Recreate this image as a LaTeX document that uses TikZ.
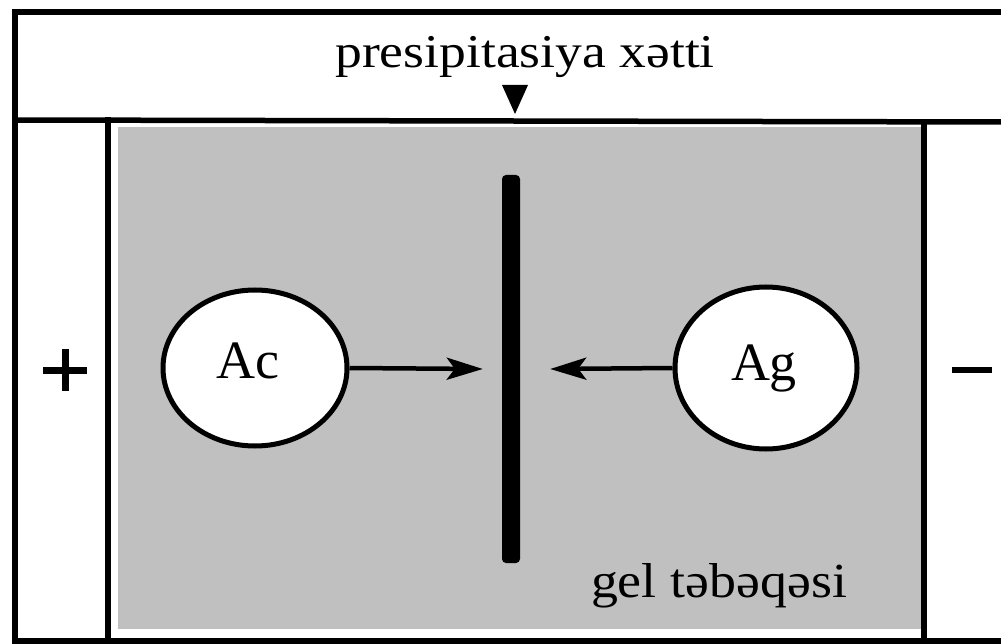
\documentclass[tikz,border=0pt]{standalone}
\usepackage{fontspec}
\setmainfont{Liberation Serif}
\usetikzlibrary{arrows.meta,shapes.geometric}
\definecolor{gelgray}{HTML}{C0C0C0}
\tikzset{
  frame/.style={line width=5.5pt, line cap=rect},
  ion/.style={ellipse, draw, line width=5pt, fill=white, inner sep=0pt},
  lab/.style={inner sep=0pt, anchor=base, font=\fontsize{54}{60}\selectfont},
  arr/.style={line width=4.5pt, -{Stealth[length=36pt,width=22pt,inset=8pt]}},
  sign/.style={line width=7pt}
}
\begin{document}
\begin{tikzpicture}[x=1pt,y=-1pt]
\useasboundingbox (0,0) rectangle (1001,644);
\fill[white] (0,0) rectangle (1001,644);
% gel layer
\fill[gelgray] (118,127) rectangle (921,629);
% frame
\draw[frame] (1010,12) -- (15,12) -- (15,641) -- (1010,641);
\draw[frame] (15,120) -- (1010,122);
\draw[frame] (108,120) -- (108,641);
\draw[frame] (924,122) -- (924,641);
% title and marker
\node[inner sep=0pt, anchor=base] (title) at (525,68)
  {\scalebox{1.14}[1]{\fontsize{47}{52}\selectfont presipitasiya xətti}};
\fill (502,85) -- (528,85) -- (515,114) -- cycle;
% precipitation line
\node[fill=black, rounded corners=4pt, minimum width=18pt, minimum height=388pt, inner sep=0pt] (bar) at (511,369) {};
% antigen / antibody wells
\node[ion, minimum width=184pt, minimum height=156pt] (ac) at (255,368) {};
\node[ion, minimum width=182pt, minimum height=162pt] (ag) at (766,368) {};
\node[lab] (aclab) at (248,378) {Ac};
\node[lab] (aglab) at (764,380) {Ag};
% arrows
\draw[arr] (ac.east) -- ([xshift=-19pt]bar.west);
\draw[arr] (ag.west) -- ([xshift=30pt]bar.east);
% electrodes
\draw[sign] (43,370) -- (87,370);
\draw[sign] (65,349) -- (65,391);
\draw[line width=5.5pt] (952,370) -- (992,370);
% gel label
\node[inner sep=0pt, anchor=base] (gel) at (719,597)
  {\scalebox{1.1}[1]{\fontsize{49}{54}\selectfont gel təbəqəsi}};
\end{tikzpicture}
\end{document}
